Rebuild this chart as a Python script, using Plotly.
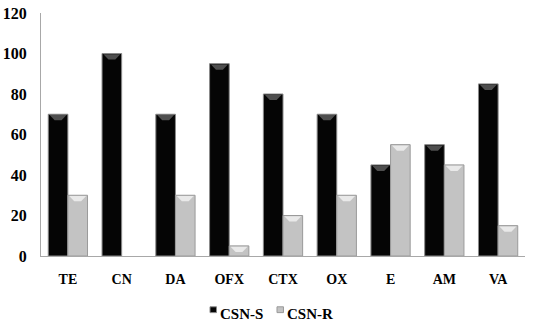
import plotly.graph_objects as go

categories = ["TE", "CN", "DA", "OFX", "CTX", "OX", "E", "AM", "VA"]
csn_s = [70, 100, 70, 95, 80, 70, 45, 55, 85]
csn_r = [30, 0, 30, 5, 20, 30, 55, 45, 15]

font_family = "Times New Roman, Liberation Serif, serif"
black, black_edge, black_cap = "#050505", "#8a8a8a", "#4e4e4e"
grey, grey_edge, grey_cap = "#c3c3c3", "#9a9a9a", "#e9e9e9"

bargap = 0.27
bar_w = (1 - bargap) / 2          # width of one bar in category units
cap_h = 3.0                       # depth of the bevelled top, in value units
xs = list(range(len(categories)))


def edge_widths(values):
    # no outline on empty bars so a zero value leaves no stray line
    return [1 if v > 0 else 0 for v in values]


def cap_shapes(values, shift, colour):
    """Trapezoid highlight on top of each bar, narrowing downwards."""
    out = []
    for i, v in zip(xs, values):
        if v <= 0:
            continue
        c = i + shift
        top_half = bar_w / 2 - 0.025
        bot_half = bar_w / 2 * 0.35
        d = min(cap_h, v * 0.6)
        path = (f"M {c - top_half},{v - 0.4} L {c + top_half},{v - 0.4} "
                f"L {c + bot_half},{v - d} L {c - bot_half},{v - d} Z")
        out.append(dict(type="path", path=path, xref="x", yref="y",
                        fillcolor=colour, line=dict(width=0), layer="above"))
    return out


fig = go.Figure()
fig.add_trace(go.Bar(
    name="CSN-S", x=xs, y=csn_s, showlegend=False,
    marker=dict(color=black, line=dict(color=black_edge, width=edge_widths(csn_s))),
))
fig.add_trace(go.Bar(
    name="CSN-R", x=xs, y=csn_r, showlegend=False,
    marker=dict(color=grey, line=dict(color=grey_edge, width=edge_widths(csn_r))),
))

shapes = cap_shapes(csn_s, -bar_w / 2, black_cap) + cap_shapes(csn_r, bar_w / 2, grey_cap)

# legend entries: text from the legend, small bevelled keys drawn beside it
for name, lg in [("CSN-S", "legend"), ("CSN-R", "legend2")]:
    fig.add_trace(go.Scatter(
        x=[None], y=[None], mode="markers", name=name, legend=lg,
        marker=dict(symbol="square", size=1, color="rgba(0,0,0,0)",
                    line=dict(width=0, color="rgba(0,0,0,0)")),
    ))

key_y0, key_y1 = -0.2330, -0.2090
for x0, x1, col, edge in [(0.3492, 0.3626, black, black_edge),
                          (0.4876, 0.5010, grey, grey_edge)]:
    shapes.append(dict(type="rect", xref="paper", yref="paper",
                       x0=x0, x1=x1, y0=key_y0, y1=key_y1,
                       fillcolor=col, line=dict(color=edge, width=1)))

legend_style = dict(
    orientation="h", xanchor="left", y=-0.235, yanchor="middle",
    font=dict(family=font_family, size=15, color="black", weight="bold"),
    itemwidth=30, bgcolor="rgba(0,0,0,0)",
)

fig.update_layout(
    width=534, height=330,
    margin=dict(l=41, r=9, t=13, b=74, autoexpand=False),
    paper_bgcolor="white", plot_bgcolor="white",
    barmode="group", bargap=bargap, bargroupgap=0.0,
    font=dict(family=font_family, size=14, color="black"),
    showlegend=True,
    legend=dict(x=0.2872, **legend_style),
    legend2=dict(x=0.4256, **legend_style),
    shapes=shapes,
)
fig.update_xaxes(
    range=[-0.5, len(categories) - 0.5], tickvals=xs, ticktext=categories,
    showline=True, linecolor="#a8a8a8", linewidth=1,
    showgrid=False, zeroline=False, ticks="", ticklabelstandoff=10,
    tickfont=dict(family=font_family, size=14, weight="bold"),
)
fig.update_yaxes(
    range=[0, 120], dtick=20, showline=True, linecolor="#a8a8a8", linewidth=1,
    showgrid=False, zeroline=False, ticks="", ticklabelstandoff=10,
    tickfont=dict(family=font_family, size=16, weight="bold"),
)

fig.write_html("out.html")
